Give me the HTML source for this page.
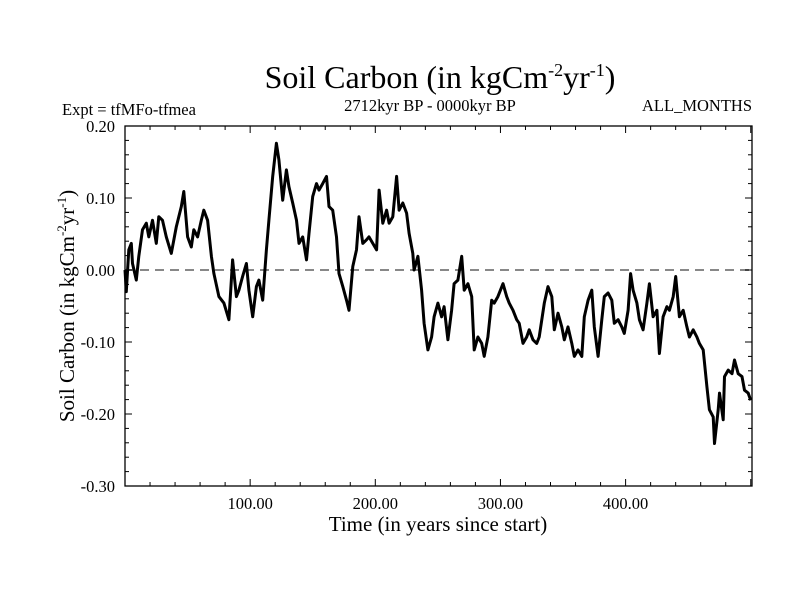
<!DOCTYPE html>
<html><head><meta charset="utf-8">
<style>
body{margin:0;background:#fff;}
svg{display:block;font-family:"Liberation Serif",serif;}
</style></head><body>
<svg id="chart" width="800" height="600" viewBox="0 0 800 600">
<rect width="800" height="600" fill="#fff"/>
<text x="440" y="88" font-size="32" text-anchor="middle">Soil Carbon (in kgCm<tspan font-size="18" dy="-12">-2</tspan><tspan dy="12">yr</tspan><tspan font-size="18" dy="-12">-1</tspan><tspan dy="12">)</tspan></text>
<text x="62" y="115" font-size="16.5">Expt = tfMFo-tfmea</text>
<text x="430" y="111" font-size="16.5" text-anchor="middle">2712kyr BP - 0000kyr BP</text>
<text x="752" y="111" font-size="16.5" text-anchor="end">ALL_MONTHS</text>
<text x="438" y="531" font-size="21" text-anchor="middle">Time (in years since start)</text>
<text transform="translate(74,306) rotate(-90)" font-size="21" text-anchor="middle">Soil Carbon (in kgCm<tspan font-size="13" dy="-8">-2</tspan><tspan dy="8">yr</tspan><tspan font-size="13" dy="-8">-1</tspan><tspan dy="8">)</tspan></text>
<g id="axes"></g>
<g id="series"></g>
</svg>
<script>
const years=[0,1,3,5,6,9,11,14,17,19,22,25,27,30,33,37,41,45,47,50,53,55,58,61,63,66,69,71,75,79,83,86,89,91,94,97,99,102,105,107,110,113,115,118,121,123,126,129,131,134,137,139,142,145,147,150,153,155,158,161,163,166,169,171,174,177,179,182,185,187,190,193,195,198,201,203,206,209,211,214,217,219,222,225,227,230,231,234,237,239,242,245,247,250,253,255,258,
261,263,266,269,271,274,277,279,282,285,287,290,293,295,298,302,305,307,310,313,315,318,321,323,326,329,331,335,338,341,343,346,349,351,354,357,359,362,365,367,370,373,375,378,381,383,386,389,391,394,397,399,402,404,406,409,411,414,417,419,422,425,427,430,433,435,438,440,443,446,449,451,454,457,459,462,465,467,470,471,474,475,478,479,482,485,487,490,493,495,498,500];
const values=[0,-0.03,0.028,0.037,0.009,-0.014,0.019,0.056,0.065,0.046,0.069,0.037,0.074,0.069,0.046,0.023,0.06,0.088,0.109,0.046,0.032,0.056,0.046,0.069,0.083,0.069,0.019,-0.005,-0.037,-0.046,-0.069,0.014,-0.037,-0.028,-0.009,0.009,-0.028,-0.065,-0.023,-0.014,-0.042,0.028,0.069,0.13,0.176,0.153,0.097,0.139,0.116,0.093,0.069,0.037,0.046,0.014,0.051,0.102,0.12,0.111,0.12,0.13,0.088,0.083,0.046,-0.005,-0.023,-0.042,-0.056,0.005,0.028,0.074,0.037,0.042,0.046,0.037,0.028,0.111,0.065,0.083,0.065,0.074,0.13,0.083,0.093,0.079,0.051,0.023,0,0.019,-0.028,-0.074,-0.111,-0.093,-0.065,-0.046,-0.065,-0.051,-0.097,
-0.056,-0.019,-0.014,0.019,-0.028,-0.019,-0.037,-0.111,-0.093,-0.102,-0.12,-0.093,-0.042,-0.046,-0.037,-0.019,-0.037,-0.046,-0.056,-0.069,-0.074,-0.102,-0.093,-0.083,-0.097,-0.102,-0.093,-0.046,-0.023,-0.037,-0.083,-0.06,-0.079,-0.097,-0.079,-0.102,-0.12,-0.111,-0.12,-0.065,-0.042,-0.028,-0.079,-0.12,-0.069,-0.037,-0.032,-0.042,-0.074,-0.069,-0.079,-0.088,-0.056,-0.005,-0.028,-0.046,-0.069,-0.083,-0.046,-0.019,-0.065,-0.056,-0.116,-0.065,-0.051,-0.056,-0.037,-0.009,-0.065,-0.056,-0.079,-0.093,-0.083,-0.093,-0.102,-0.111,-0.162,-0.194,-0.204,-0.241,-0.194,-0.171,-0.208,-0.148,-0.139,-0.144,-0.125,-0.144,-0.148,-0.167,-0.171,-0.181];
const xTicks=[100,200,300,400];
const xTickLabels=["100.00","200.00","300.00","400.00"];
const yTicks=[0.2,0.1,0,-0.1,-0.2,-0.3];
const yTickLabels=["0.20","0.10","0.00","-0.10","-0.20","-0.30"];
const X0=125,X1=752,Y0=126,Y1=486,xMin=0,xMax=501,yMin=-0.3,yMax=0.2;
const sx=v=>X0+(v-xMin)/(xMax-xMin)*(X1-X0);
const sy=v=>Y1-(v-yMin)/(yMax-yMin)*(Y1-Y0);
const NS="http://www.w3.org/2000/svg";
const axes=document.getElementById('axes'),series=document.getElementById('series');
function mk(t,a,p){const e=document.createElementNS(NS,t);for(const k in a)e.setAttribute(k,a[k]);p.appendChild(e);return e;}
const z=mk('line',{x1:X0,x2:X1,y1:sy(0),y2:sy(0),stroke:'#888','stroke-width':2,'stroke-dasharray':'9,6'},axes);


const fr=mk('rect',{x:X0,y:Y0,width:X1-X0,height:Y1-Y0,fill:'none',stroke:'#000','stroke-width':1.3},axes);


for(let v=20;v<xMax;v+=20){const x=sx(v),L=(v%100===0)?7:4;
mk('line',{x1:x,x2:x,y1:Y1,y2:Y1-L,stroke:'#000'},axes);mk('line',{x1:x,x2:x,y1:Y0,y2:Y0+L,stroke:'#000'},axes);}
xTicks.forEach((v,i)=>{const t=mk('text',{x:sx(v),y:Y1+23,'font-size':16.5,'text-anchor':'middle'},axes);t.textContent=xTickLabels[i];

});
for(let v=-0.3;v<=0.2001;v+=0.02){const y=sy(v),L=(Math.abs(Math.round(v*100))%10===0)?7:4;
mk('line',{x1:X0,x2:X0+L,y1:y,y2:y,stroke:'#000'},axes);mk('line',{x1:X1,x2:X1-L,y1:y,y2:y,stroke:'#000'},axes);}
yTicks.forEach((v,i)=>{const t=mk('text',{x:115,y:sy(v)+6,'font-size':16.5,'text-anchor':'end'},axes);t.textContent=yTickLabels[i];

});
const d=years.map((yr,i)=>(i?'L':'M')+sx(yr).toFixed(1)+','+sy(values[i]).toFixed(1)).join('');
const p=mk('path',{d:d,fill:'none',stroke:'#000','stroke-width':3,'stroke-linejoin':'round'},series);


</script>
</body></html>
